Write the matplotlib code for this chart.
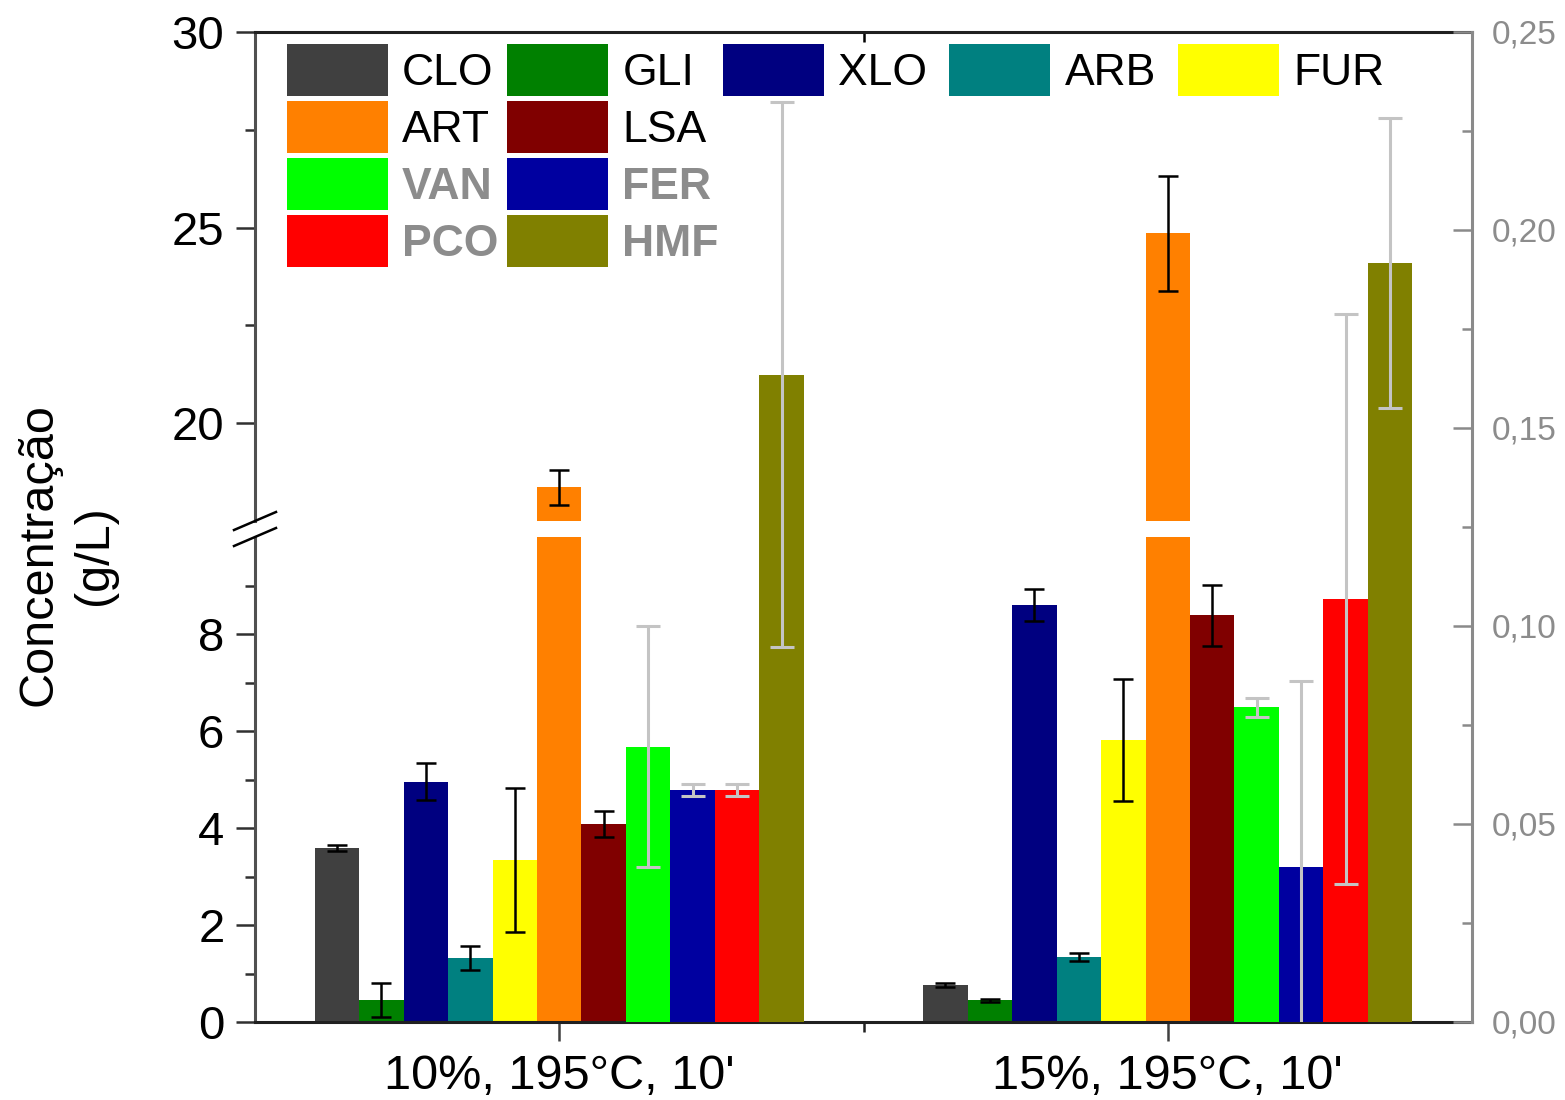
import matplotlib
matplotlib.use("Agg")
import matplotlib.pyplot as plt
from matplotlib.patches import Rectangle
from matplotlib.ticker import FuncFormatter
import numpy as np

plt.rcParams['font.family'] = ['Liberation Sans', 'DejaVu Sans']

# ---------------- data ----------------
groups = ["10%, 195°C, 10'", "15%, 195°C, 10'"]

left_names = ["CLO", "GLI", "XLO", "ARB", "FUR", "ART", "LSA"]
left_colors = ["#404040", "#008000", "#000080", "#008080", "#FFFF00", "#FF8000", "#800000"]
left_vals_g1 = [3.59, 0.45, 4.95, 1.32, 3.34, 18.36, 4.08]
left_err_g1 = [0.06, 0.35, 0.38, 0.24, 1.48, 0.45, 0.27]
left_vals_g2 = [0.76, 0.45, 8.60, 1.34, 5.81, 24.86, 8.39]
left_err_g2 = [0.04, 0.03, 0.33, 0.09, 1.26, 1.47, 0.63]

right_names = ["VAN", "FER", "PCO", "HMF"]
right_colors = ["#00FF00", "#0000A0", "#FF0000", "#808000"]
right_vals_g1 = [0.0695, 0.0586, 0.0586, 0.1635]
right_err_g1 = [0.0304, 0.0015, 0.0015, 0.0688]
right_vals_g2 = [0.0795, 0.0391, 0.1068, 0.1917]
right_err_g2 = [0.0024, 0.0470, 0.0720, 0.0367]

low_ylim = (0, 10)
up_ylim = (17.5, 30)
right_ylim = (0, 0.25)

# ---------------- layout ----------------
W, H = 1565, 1100
fig = plt.figure(figsize=(W / 100, H / 100), dpi=100)

xl, xr = 255, 1472
y_bot, y_low_top, y_up_bot, y_top = 1022, 537, 521, 32

def fr(x0, y0, x1, y1):
    return [x0 / W, (H - y1) / H, (x1 - x0) / W, (y1 - y0) / H]

ax_low = fig.add_axes(fr(xl, y_low_top, xr, y_bot))
ax_up = fig.add_axes(fr(xl, y_top, xr, y_up_bot))
ax_r = fig.add_axes(fr(xl, y_top, xr, y_bot))
ax_r.patch.set_alpha(0)

x_pos = np.arange(1, len(groups) + 1)
bw = 0.0731
n_all = len(left_names) + len(right_names)
offsets = (np.arange(n_all) - (n_all - 1) / 2) * bw

tick_fs = 34
blk_err = dict(ecolor="black", elinewidth=1.8, capsize=7.5, capthick=1.8)
gry_err = dict(ecolor="#c4c4c4", elinewidth=2.2, capsize=8.5, capthick=2.2)

handles = {}
for i, name in enumerate(left_names):
    vals = [left_vals_g1[i], left_vals_g2[i]]
    errs = [left_err_g1[i], left_err_g2[i]]
    for ax in (ax_low, ax_up):
        b = ax.bar(x_pos + offsets[i], vals, bw, color=left_colors[i], linewidth=0, zorder=2)
        ax.errorbar(x_pos + offsets[i], vals, yerr=errs, fmt="none", zorder=3, **blk_err)
    handles[name] = b

for j, name in enumerate(right_names):
    k = len(left_names) + j
    vals = [right_vals_g1[j], right_vals_g2[j]]
    errs = [right_err_g1[j], right_err_g2[j]]
    b = ax_r.bar(x_pos + offsets[k], vals, bw, color=right_colors[j], linewidth=0, zorder=2)
    ax_r.errorbar(x_pos + offsets[k], vals, yerr=errs, fmt="none", zorder=3, **gry_err)
    handles[name] = b

# ---------------- axes styling ----------------
for ax in (ax_low, ax_up, ax_r):
    ax.set_xlim(0.5, 2.5)

ax_low.set_ylim(*low_ylim)
ax_up.set_ylim(*up_ylim)
ax_r.set_ylim(*right_ylim)

spine_lw = 2.2
for ax in (ax_low, ax_up):
    ax.spines["right"].set_visible(False)
    ax.spines["left"].set_color("#505050")
    ax.spines["left"].set_linewidth(spine_lw)
ax_low.spines["top"].set_visible(False)
ax_low.spines["bottom"].set_linewidth(spine_lw)
ax_low.spines["bottom"].set_color("#202020")
ax_up.spines["bottom"].set_visible(False)
ax_up.spines["top"].set_linewidth(spine_lw)
ax_up.spines["top"].set_color("#202020")

ax_low.set_yticks([0, 2, 4, 6, 8])
ax_low.set_yticks([1, 3, 5, 7, 9], minor=True)
ax_up.set_yticks([20, 25, 30])
ax_up.set_yticks([22.5, 27.5], minor=True)
for ax in (ax_low, ax_up):
    ax.tick_params(axis="y", which="major", direction="out", length=14, width=1.8,
                   labelsize=tick_fs, pad=8, color="#303030")
    ax.tick_params(axis="y", which="minor", direction="out", length=7, width=1.8, color="#303030")

ax_low.set_xticks(x_pos)
ax_low.set_xticklabels(groups)
ax_low.set_xticks([1.5], minor=True)
ax_low.tick_params(axis="x", which="major", direction="out", length=14, width=1.8,
                   labelsize=35, pad=9, color="#404040")
ax_low.tick_params(axis="x", which="minor", direction="out", length=7, width=1.8, color="#202020")

ax_up.set_xticks([])
ax_up.set_xticks([1.5], minor=True)
ax_up.tick_params(axis="x", which="minor", bottom=False, top=True, direction="in",
                  length=7, width=1.8, labelbottom=False)

# right axis
for s in ("left", "top", "bottom"):
    ax_r.spines[s].set_visible(False)
ax_r.spines["right"].set_color("#8a8a8a")
ax_r.spines["right"].set_linewidth(spine_lw)
ax_r.set_xticks([])
ax_r.yaxis.tick_right()
ax_r.set_yticks([0, 0.05, 0.10, 0.15, 0.20, 0.25])
ax_r.set_yticks([0.025, 0.075, 0.125, 0.175, 0.225], minor=True)
ax_r.yaxis.set_major_formatter(FuncFormatter(lambda v, p: f"{v:.2f}".replace(".", ",")))
ax_r.tick_params(axis="y", which="major", direction="in", length=14, width=1.8,
                 color="#8a8a8a", labelcolor="#8c8c8c", labelsize=24, pad=14)
ax_r.tick_params(axis="y", which="minor", direction="in", length=7, width=1.8, color="#8a8a8a")

# break marks on left spine
dx = 21 / (xr - xl)
dy_low = 9 / (y_bot - y_low_top)
dy_up = 9 / (y_up_bot - y_top)
ax_low.plot([-dx, dx], [1 - dy_low, 1 + dy_low], transform=ax_low.transAxes,
            color="black", lw=1.8, clip_on=False, zorder=5)
ax_up.plot([-dx, dx], [-dy_up, dy_up], transform=ax_up.transAxes,
           color="black", lw=1.8, clip_on=False, zorder=5)

# y label
fig.text(67 / W, (H - 555) / H, "Concentração\n(g/L)", rotation=90, ha="center", va="center",
         multialignment="center", fontsize=35, linespacing=1.3)

# ---------------- legend ----------------
dummy = Rectangle((0, 0), 1, 1, visible=False)
leg_fs = 32
leg_kw = dict(frameon=False, fontsize=leg_fs, handlelength=2.27, handleheight=1.425,
              handletextpad=0.32, labelspacing=0.11, borderpad=0, borderaxespad=0,
              loc="upper left")

def ax_frac(px, py):
    return ((px - xl) / (xr - xl), 1 - (py - y_top) / (y_bot - y_top))

# columns 1-2 (four rows)
order_a = [["CLO", "ART", "VAN", "PCO"], ["GLI", "LSA", "FER", "HMF"]]
hs = [handles[n] for col in order_a for n in col]
ls = [n for col in order_a for n in col]
leg_a = ax_r.legend(hs, ls, ncol=2, bbox_to_anchor=ax_frac(287, 44), columnspacing=0.2, **leg_kw)
ax_r.add_artist(leg_a)

# columns 3-5 (first row only)
order_b = ["XLO", "ARB", "FUR"]
leg_b = ax_r.legend([handles[n] for n in order_b], order_b, ncol=3,
                    bbox_to_anchor=ax_frac(723, 44), columnspacing=0.5, **leg_kw)

for lg in (leg_a, leg_b):
    for t in lg.get_texts():
        if t.get_text() in right_names:
            t.set_color("#8c8c8c")
            t.set_fontweight("bold")

fig.savefig("out.png", dpi=100)
